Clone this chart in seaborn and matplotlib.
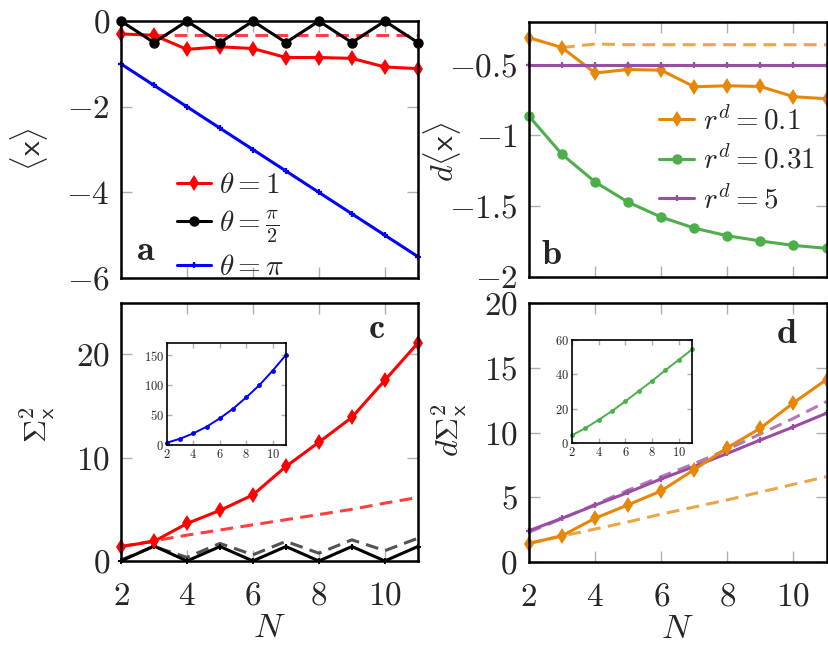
import matplotlib
matplotlib.use("Agg")
import matplotlib.pyplot as plt
import seaborn as sns
from matplotlib.legend_handler import HandlerLine2D
from matplotlib.ticker import FuncFormatter

sns.set_style("ticks")
plt.rcParams['font.family'] = 'serif'
plt.rcParams['font.serif'] = ['cmr10', 'DejaVu Serif']
plt.rcParams['mathtext.fontset'] = 'cm'
plt.rcParams['axes.formatter.use_mathtext'] = True

# данные
N = [2, 3, 4, 5, 6, 7, 8, 9, 10, 11]

# панель a: <x>
x_theta1 = [-0.30, -0.33, -0.66, -0.60, -0.64, -0.85, -0.85, -0.87, -1.07, -1.11]
x_theta1_dash = [-0.33, -0.33, -0.33, -0.33, -0.33, -0.33, -0.33, -0.33, -0.33]
x_thetahalf = [0.0, -0.5, 0.0, -0.5, 0.0, -0.5, 0.0, -0.5, 0.0, -0.5]
x_thetapi = [-1.0, -1.5, -2.0, -2.5, -3.0, -3.5, -4.0, -4.5, -5.0, -5.5]

# панель b: d<x>
dx_r01 = [-0.31, -0.38, -0.56, -0.535, -0.54, -0.657, -0.65, -0.655, -0.727, -0.742]
dx_r01_dash = [-0.38, -0.355, -0.36, -0.36, -0.36, -0.36, -0.36, -0.36, -0.36]
dx_r031 = [-0.864, -1.134, -1.329, -1.472, -1.577, -1.655, -1.709, -1.746, -1.777, -1.798]
dx_r5 = [-0.5, -0.5, -0.5, -0.5, -0.5, -0.5, -0.5, -0.5, -0.5, -0.5]

# панель c: Sigma^2
s_theta1 = [1.4, 1.9, 3.63, 4.9, 6.4, 9.15, 11.5, 13.9, 17.5, 21.1]
s_theta1_dash = [1.4, 1.95, 2.5, 3.0, 3.5, 4.0, 4.5, 5.0, 5.6, 6.15]
s_thetahalf = [0.0, 1.45, 0.0, 1.4, 0.0, 1.4, 0.0, 1.4, 0.0, 1.4]
s_thetahalf_dash = [0.1, 1.4, 0.35, 1.7, 0.6, 1.9, 0.75, 2.05, 1.0, 2.2]
s_thetapi = [3.9, 10.5, 19.4, 30.5, 44.4, 60.5, 79.4, 100.0, 124.0, 150.0]

# панель d: d Sigma^2
ds_r01 = [1.43, 2.03, 3.38, 4.42, 5.5, 7.14, 8.83, 10.34, 12.3, 14.1]
ds_r01_dash = [1.45, 2.0, 2.55, 3.1, 3.7, 4.25, 4.8, 5.4, 6.0, 6.6]
ds_r5 = [2.42, 3.38, 4.39, 5.38, 6.42, 7.38, 8.39, 9.43, 10.44, 11.5]
ds_r5_dash = [2.3, 3.35, 4.45, 5.55, 6.6, 7.6, 8.7, 9.9, 11.1, 12.4]
ds_r031 = [4.5, 8.6, 13.5, 18.6, 24.3, 30.2, 36.1, 42.4, 48.4, 54.5]

RED, BLUE, BLACK = '#ff0000', '#0000ff', '#000000'
ORANGE, GREEN, PURPLE = '#e6870a', '#4daf4a', '#984ea3'


class EndMarker(HandlerLine2D):
    # маркер в конце линии, как в pgfplots
    def get_xdata(self, legend, xdescent, ydescent, width, height, fontsize):
        xdata, _ = super().get_xdata(legend, xdescent, ydescent, width, height, fontsize)
        return xdata, [xdata[-1]]


def fmt(v, pos):
    return f'${v:g}$'


def style(ax, xt, yt, small=False, xlabels=True):
    ax.set_xlim(2, 11)
    ax.set_xticks(xt)
    ax.set_yticks(yt)
    ax.xaxis.set_major_formatter(FuncFormatter(fmt))
    ax.yaxis.set_major_formatter(FuncFormatter(fmt))
    ax.tick_params(direction='in', top=True, right=True, color='#b0b0b0',
                   width=1, length=3.5 if small else 8,
                   labelsize=9 if small else 24, pad=2 if small else 8)
    if not small:
        ax.tick_params(axis='x', pad=15)
    if not xlabels:
        ax.tick_params(labelbottom=False)
    for sp in ax.spines.values():
        sp.set_linewidth(1.2 if small else 1.8)
        sp.set_color('black')
        sp.set_zorder(5)
    ax.set_xlabel('')
    ax.set_ylabel('')


def line(ax, x, y, color, marker=None, ms=7, dashed=False, label=None, alpha=1.0, mew=0, lw=2.2):
    kw = dict(x=x, y=y, ax=ax, color=color, linewidth=lw, alpha=alpha)
    if marker:
        kw.update(marker=marker, markersize=ms, markeredgecolor=color, markeredgewidth=mew)
    if dashed:
        kw.update(linestyle=(0, (4.2, 2.4)))
    if label:
        kw.update(label=label)
    sns.lineplot(**kw)


fig = plt.figure(figsize=(8.29, 6.52), dpi=100)
ax_a = fig.add_axes([0.146, 0.5736, 0.358, 0.394])
ax_b = fig.add_axes([0.638, 0.5752, 0.359, 0.391])
ax_c = fig.add_axes([0.146, 0.1396, 0.358, 0.396])
ax_d = fig.add_axes([0.638, 0.1380, 0.359, 0.397])
in_c = fig.add_axes([0.2014, 0.3175, 0.1435, 0.1564])
in_d = fig.add_axes([0.690, 0.3206, 0.1448, 0.158])

# a
line(ax_a, N[1:], x_theta1_dash, RED, dashed=True, alpha=0.75)
line(ax_a, N, x_theta1, RED, 'd', ms=8, label=r'$\theta = 1$')
line(ax_a, N, x_thetahalf, BLACK, 'o', ms=7.5, label=r'$\theta = \frac{\pi}{2}$')
line(ax_a, N, x_thetapi, BLUE, '+', ms=5, mew=1.6, label=r'$\theta = \pi$')
ax_a.set_ylim(-6, 0)
style(ax_a, [2, 4, 6, 8, 10], [-6, -4, -2, 0], xlabels=False)
h, l = ax_a.get_legend_handles_labels()
ax_a.legend(h, l, loc='upper left', bbox_to_anchor=(0.12, 0.49), frameon=False,
            fontsize=21, handlelength=1.15, handletextpad=0.3, labelspacing=0.32,
            borderpad=0.2, handler_map={h[0].__class__: EndMarker()})
ax_a.set_ylabel(r'$\langle \mathsf{x} \rangle$', fontsize=23)
ax_a.yaxis.set_label_coords(-0.24, 0.5)
ax_a.text(0.05, 0.07, r'$\mathbf{a}$', transform=ax_a.transAxes, fontsize=26)

# b
line(ax_b, N[1:], dx_r01_dash, ORANGE, dashed=True, alpha=0.75)
line(ax_b, N, dx_r01, ORANGE, 'd', ms=8, label=r'$r^d = 0.1$')
line(ax_b, N, dx_r031, GREEN, 'o', ms=7.5, label=r'$r^d = 0.31$')
line(ax_b, N, dx_r5, PURPLE, '+', ms=5, mew=1.6, label=r'$r^d = 5$')
ax_b.set_ylim(-2, -0.2)
style(ax_b, [2, 4, 6, 8, 10], [-2, -1.5, -1, -0.5], xlabels=False)
h, l = ax_b.get_legend_handles_labels()
ax_b.legend(h, l, loc='upper left', bbox_to_anchor=(0.37, 0.75), frameon=False,
            fontsize=21, handlelength=1.2, handletextpad=0.3, labelspacing=0.35,
            borderpad=0.2, handler_map={h[0].__class__: EndMarker()})
ax_b.set_ylabel(r'$d\langle \mathsf{x} \rangle$', fontsize=23)
ax_b.yaxis.set_label_coords(-0.22, 0.49)
ax_b.text(0.04, 0.05, r'$\mathbf{b}$', transform=ax_b.transAxes, fontsize=26)

# c
line(ax_c, N, s_theta1_dash, RED, dashed=True, alpha=0.75)
line(ax_c, N, s_thetahalf_dash, '#404040', dashed=True, alpha=0.9)
line(ax_c, N, s_thetahalf, BLACK, '+', ms=4, mew=1.4)
line(ax_c, N, s_theta1, RED, 'd', ms=8)
ax_c.set_ylim(0, 25)
style(ax_c, [2, 4, 6, 8, 10], [0, 10, 20])
ax_c.set_xlabel(r'$N$', fontsize=25, labelpad=1)
ax_c.set_ylabel(r'$\Sigma^2_{\mathsf{x}}$', fontsize=23)
ax_c.yaxis.set_label_coords(-0.215, 0.53)
ax_c.text(0.86, 0.898, r'$\mathbf{c}$', transform=ax_c.transAxes, fontsize=26,
          ha='center', va='center')

line(in_c, N, s_thetapi, BLUE, 'o', ms=3.5, lw=1.4)
in_c.set_ylim(0, 170)
style(in_c, [2, 4, 6, 8, 10], [0, 50, 100, 150], small=True)

# d
line(ax_d, N, ds_r01_dash, ORANGE, dashed=True, alpha=0.75)
line(ax_d, N, ds_r5_dash, PURPLE, dashed=True, alpha=0.75)
line(ax_d, N, ds_r5, PURPLE, '+', ms=5, mew=1.6)
line(ax_d, N, ds_r01, ORANGE, 'd', ms=8)
ax_d.set_ylim(0, 20)
style(ax_d, [2, 4, 6, 8, 10], [0, 5, 10, 15, 20])
ax_d.set_xlabel(r'$N$', fontsize=25, labelpad=1)
ax_d.set_ylabel(r'$d\Sigma^2_{\mathsf{x}}$', fontsize=23)
ax_d.yaxis.set_label_coords(-0.2, 0.51)
ax_d.text(0.866, 0.88, r'$\mathbf{d}$', transform=ax_d.transAxes, fontsize=26,
          ha='center', va='center')

line(in_d, N, ds_r031, GREEN, 'o', ms=3.5, lw=1.4)
in_d.set_ylim(0, 60)
style(in_d, [2, 4, 6, 8, 10], [0, 20, 40, 60], small=True)

for ax in [ax_a, ax_b, ax_c, ax_d, in_c, in_d]:
    for ln in ax.lines:
        ln.set_clip_on(False)

fig.savefig('out.png', dpi=100)
